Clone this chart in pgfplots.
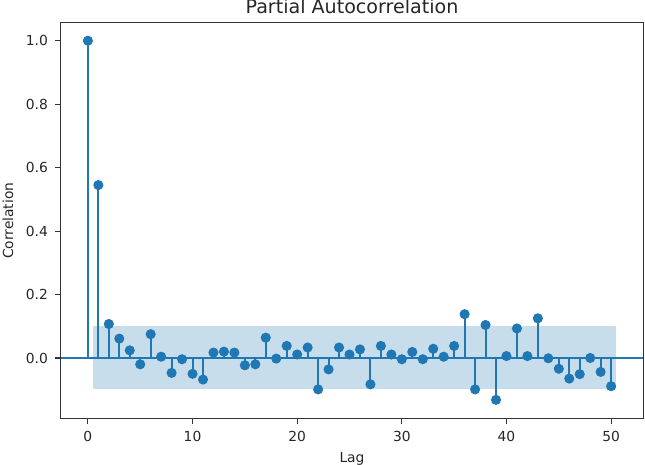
\documentclass[border=0pt]{standalone}
\usepackage{pgfplots}
\pgfplotsset{compat=1.18}
\usepackage{fontspec}
\setmainfont{DejaVu Sans}
\definecolor{c0}{HTML}{1F77B4}
\definecolor{spine}{HTML}{333333}

% partial autocorrelation, lags 0..50
\pgfplotstableread{
lag  pacf
0    1.000
1    0.545
2    0.107
3    0.061
4    0.024
5   -0.020
6    0.075
7    0.004
8   -0.047
9   -0.004
10  -0.050
11  -0.068
12   0.017
13   0.020
14   0.017
15  -0.023
16  -0.020
17   0.064
18  -0.002
19   0.038
20   0.011
21   0.033
22  -0.099
23  -0.036
24   0.033
25   0.011
26   0.027
27  -0.083
28   0.038
29   0.011
30  -0.004
31   0.019
32  -0.004
33   0.029
34   0.004
35   0.038
36   0.138
37  -0.099
38   0.104
39  -0.132
40   0.006
41   0.093
42   0.006
43   0.125
44  -0.001
45  -0.034
46  -0.065
47  -0.051
48   0.000
49  -0.044
50  -0.089
}\pacf

\begin{document}
\begin{tikzpicture}
\begin{axis}[
  name=ax, at={(0,0)}, anchor=south west,
  scale only axis, width=419.5bp, height=285.3bp,
  xmin=-2.6, xmax=53.08, ymin=-0.192, ymax=1.057,
  xtick={0,10,20,30,40,50},
  ytick={0,0.2,0.4,0.6,0.8,1.0},
  y tick label style={/pgf/number format/fixed,
    /pgf/number format/fixed zerofill, /pgf/number format/precision=1},
  /pgf/number format/assume math mode=true,
  tick align=outside, xtick pos=bottom, ytick pos=left,
  major tick length=4bp,
  every tick/.style={spine, line width=0.8bp},
  axis line style={spine, line width=0.8bp},
  tick label style={font=\fontsize{10}{12}\selectfont, text=black!85},
  xticklabel style={anchor=north, inner sep=0pt, yshift=-5bp},
  yticklabel style={anchor=east, inner sep=0pt, xshift=-5bp},
]
\addplot[c0, line width=1.3bp] coordinates {(-2.6,0) (53.08,0)};
\addplot[c0, line width=1.4bp, ycomb, mark=*, mark size=2.9bp,
  mark options={fill=c0, draw=c0}] table[x=lag, y=pacf] {\pacf};
\addplot[draw=none, fill=c0, fill opacity=0.25]
  coordinates {(0.5,-0.098) (50.5,-0.098) (50.5,0.1005) (0.5,0.1005)};
\end{axis}
\node[anchor=base, font=\fontsize{13.8}{16}\selectfont, text=black!85]
  at ([yshift=6.8bp]ax.north) {Partial Autocorrelation};
\node[anchor=base, font=\fontsize{10}{12}\selectfont, text=black!85]
  at ([yshift=-31.7bp]ax.south) {Lag};
\node[rotate=90, anchor=center, font=\fontsize{10}{12}\selectfont, text=black!85]
  at ([xshift=-38bp]ax.west) {Correlation};
\pgfresetboundingbox
\path ([xshift=-43.7bp, yshift=-33.1bp]ax.south west) rectangle ([xshift=1.2bp, yshift=16.3bp]ax.north east);
\end{tikzpicture}
\end{document}
